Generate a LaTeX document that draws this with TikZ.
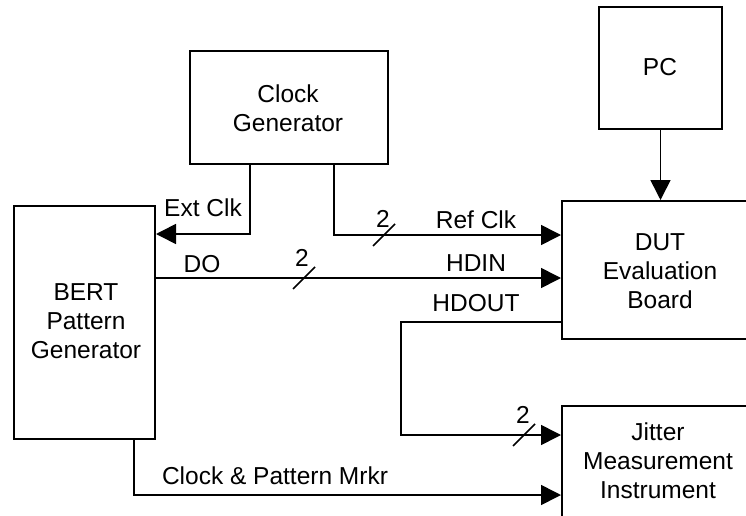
\documentclass[tikz,border=0pt]{standalone}
\usepackage{fontspec}
\setmainfont{Liberation Sans}
\usetikzlibrary{arrows.meta}
\begin{document}
\begin{tikzpicture}[x=1pt,y=-1pt,
  box/.style={draw,line width=2pt,inner sep=0pt,anchor=north west},
  wire/.style={line width=1.6pt},
  arr/.style={wire,-{Triangle[length=20pt,width=20pt]}},
  txt/.style={inner sep=0pt,font=\fontsize{24.5}{29}\selectfont,align=center},
  lbl/.style={inner sep=0pt,font=\fontsize{24.5}{29}\selectfont,anchor=base},
  tick/.style={line width=1.6pt}]
\clip (0,0) rectangle (746,516);
% boxes
\node[box,minimum width=141pt,minimum height=233pt] (bert) at (13,205) {};
\node[box,minimum width=198pt,minimum height=113pt] (clk) at (189,50) {};
\node[box,minimum width=123pt,minimum height=122pt] (pc) at (598,6) {};
\node[box,minimum width=220pt,minimum height=138pt] (dut) at (561,200) {};
\node[box,minimum width=220pt,minimum height=150pt] (jit) at (561,405) {};
% box texts
\node[txt] (bertt) at (86,321) {BERT\\Pattern\\Generator};
\node[txt] (clkt) at (288,108) {Clock\\Generator};
\node[txt] (pct) at (660,67) {PC};
\node[txt] (dutt) at (660,271.5) {DUT\\Evaluation\\Board};
\node[txt] (jitt) at (658,460.5) {Jitter\\Measurement\\Instrument};
% connectors
\coordinate (extk) at (250,234);
\draw[arr] (clk.south -| extk) |- (extk -| bert.east);
\coordinate (refk) at (334,235);
\draw[arr] (clk.south -| refk) |- (refk -| dut.west);
\coordinate (dok) at (0,278);
\draw[arr] (dok -| bert.east) -- (dok -| dut.west);
\draw[arr] (pc.south) -- (dut.north -| pc.south);
\coordinate (hdo) at (401,322);
\coordinate (hdj) at (401,435);
\draw[arr] (hdo -| dut.west) -- (hdo) -- (hdj) -- (hdj -| jit.west);
\coordinate (cpm) at (134,495);
\draw[arr] (bert.south -| cpm) |- (cpm -| jit.west);
% bus ticks
\draw[tick] (373,246) -- (395,224);
\draw[tick] (293,289) -- (315,267);
\draw[tick] (513,446) -- (535,424);
% labels
\node[lbl] (l2a) at (383,227.8) {2};
\node[lbl] (l2b) at (302,266.8) {2};
\node[lbl] (l2c) at (523,423.8) {2};
\node[lbl] (lext) at (203,216.8) {Ext Clk};
\node[lbl] (lref) at (476,228.8) {Ref Clk};
\node[lbl] (ldo) at (202,272.8) {DO};
\node[lbl] (lhdin) at (476,271.8) {HDIN};
\node[lbl] (lhdout) at (476,311.8) {HDOUT};
\node[lbl] (lcpm) at (275,484.8) {Clock \& Pattern Mrkr};
\end{tikzpicture}
\end{document}
